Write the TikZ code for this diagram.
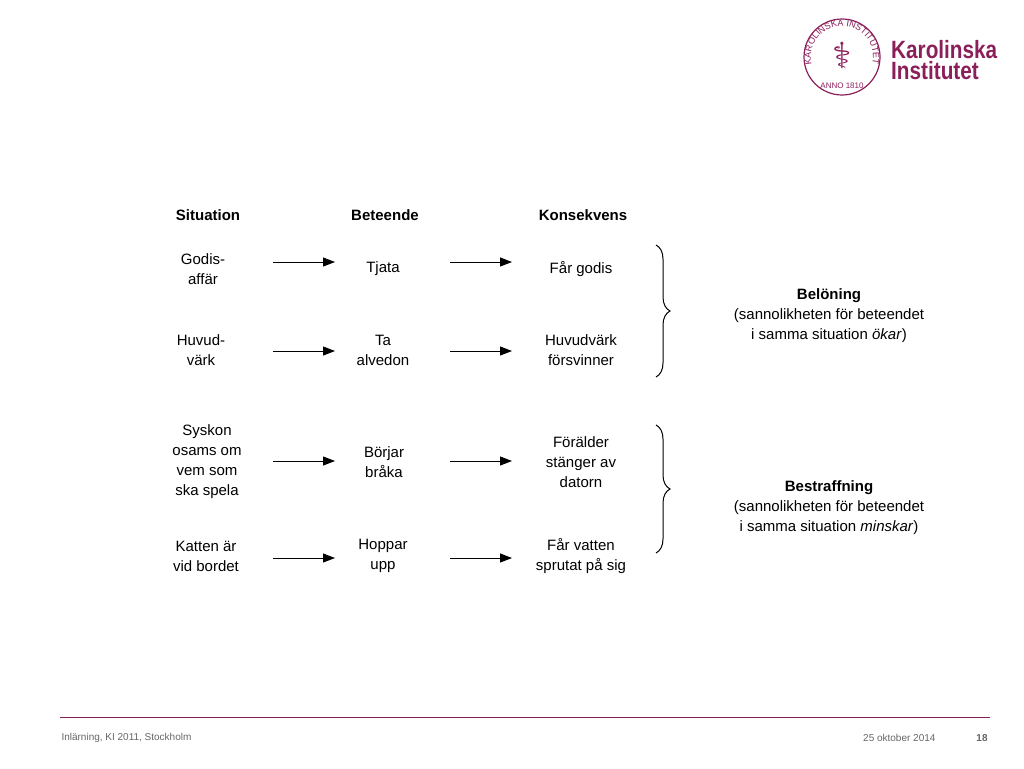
\documentclass[tikz,border=0pt]{standalone}
\usepackage{fontspec}
\setmainfont{Liberation Sans}
\newfontfamily\djv{DejaVu Sans}
\usetikzlibrary{decorations.pathreplacing,decorations.text,arrows.meta}
\definecolor{ki}{HTML}{8A1F5A}
\begin{document}
\begin{tikzpicture}[x=1pt,y=-1pt,
  lbl/.style={align=center,font=\fontsize{15}{20}\selectfont},
  hdr/.style={font=\fontsize{15}{18}\selectfont\bfseries},
  arr/.style={-{Triangle[length=12pt,width=9pt]},line width=1pt},
  brace/.style={decorate,decoration={brace,amplitude=14pt},line width=1pt}]
\useasboundingbox (0,0) rectangle (1024,768);
% logo
\draw[ki,line width=1.2pt] (842,57) circle (38);
\path[decorate,decoration={text along path,text align=center,text={|\fontsize{9}{9}\selectfont\color{ki}|KAROLINSKA INSTITUTET}}] (842,57) ++(140:31) arc (140:400:31);
\node[ki,font=\fontsize{8}{8}\selectfont] (anno) at (842,86) {ANNO 1810};
\node[ki,font=\fontsize{36}{36}\djv] (sym) at (842,56) {\char"2695};
\node[ki,anchor=west,font=\fontsize{25}{24}\selectfont\bfseries,inner sep=0pt,xscale=0.83] (k1) at (891,50) {Karolinska};
\node[ki,anchor=west,font=\fontsize{25}{24}\selectfont\bfseries,inner sep=0pt,xscale=0.83] (k2) at (891,71) {Institutet};
% headers
\node[hdr] (h1) at (208,215) {Situation};
\node[hdr] (h2) at (385,215) {Beteende};
\node[hdr] (h3) at (583,215) {Konsekvens};
% rows
\node[lbl] (s1) at (203,269) {Godis-\\affär};
\node[lbl] (b1) at (383,269) {Tjata};
\node[lbl] (k1r) at (581,269) {Får godis};
\node[lbl] (s2) at (201,350) {Huvud-\\värk};
\node[lbl] (b2) at (383,350) {Ta\\alvedon};
\node[lbl] (k2r) at (581,350) {Huvudvärk\\försvinner};
\node[lbl] (s3) at (207,462) {Syskon\\osams om\\vem som\\ska spela};
\node[lbl] (b3) at (384,462) {Börjar\\bråka};
\node[lbl] (k3r) at (581,462) {Förälder\\stänger av\\datorn};
\node[lbl] (s4) at (206,556) {Katten är\\vid bordet};
\node[lbl] (b4) at (383,556) {Hoppar\\upp};
\node[lbl] (k4r) at (581,556) {Får vatten\\sprutat på sig};
\coordinate (a1) at (273,262); \coordinate (a1e) at (335,262);
\coordinate (c1) at (450,262); \coordinate (c1e) at (512,262);
\coordinate (a2) at (273,351); \coordinate (a2e) at (335,351);
\coordinate (c2) at (450,351); \coordinate (c2e) at (512,351);
\coordinate (a3) at (273,461); \coordinate (a3e) at (335,461);
\coordinate (c3) at (450,461); \coordinate (c3e) at (512,461);
\coordinate (a4) at (273,558); \coordinate (a4e) at (335,558);
\coordinate (c4) at (450,558); \coordinate (c4e) at (512,558);
\foreach \i in {1,...,4}{\draw[arr] (a\i)--(a\i e); \draw[arr] (c\i)--(c\i e);}
% braces
\coordinate (br1t) at (656,245); \coordinate (br1b) at (656,377);
\coordinate (br2t) at (656,425); \coordinate (br2b) at (656,553);
\draw[brace] (br1t)--(br1b);
\draw[brace] (br2t)--(br2b);
\node[lbl] (bel) at (829,316) {\textbf{Belöning}\\(sannolikheten för beteendet\\i samma situation \textit{ökar})};
\node[lbl] (bes) at (829,508) {\textbf{Bestraffning}\\(sannolikheten för beteendet\\i samma situation \textit{minskar})};
% footer
\draw[ki,line width=0.8pt] (60,717) -- (990,717);
\node[anchor=west,font=\fontsize{10}{10}\selectfont,gray!80!black] (f1) at (58,738) {Inlärning, KI 2011, Stockholm};
\node[anchor=east,font=\fontsize{10}{10}\selectfont,gray!80!black] (f2) at (939,738) {25 oktober 2014};
\node[font=\fontsize{10}{10}\selectfont\bfseries,gray!80!black] (f3) at (982,738) {18};
\end{tikzpicture}
\end{document}
